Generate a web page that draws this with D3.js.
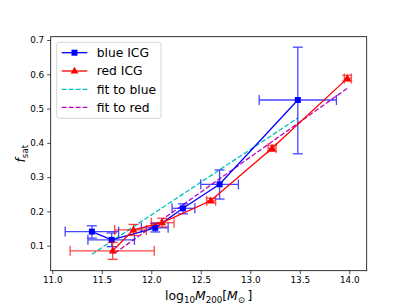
<!DOCTYPE html>
<html>
<head>
<meta charset="utf-8">
<script src="https://cdn.jsdelivr.net/npm/d3@7"></script>
<style>
  body { margin: 0; background: #fff; }
  text { font-family: "DejaVu Sans", sans-serif; }
</style>
</head>
<body>
<div id="chart"></div>
<script>
// blue ICG
const blueX = [11.40, 11.60, 12.04, 12.32, 12.69, 13.48];
const blueY = [0.141, 0.117, 0.152, 0.209, 0.279, 0.525];
const blueXlo = [11.13, 11.36, 11.90, 12.21, 12.50, 13.09];
const blueXhi = [11.67, 11.83, 12.17, 12.44, 12.88, 13.87];
const blueYlo = [0.122, 0.097, 0.140, 0.193, 0.236, 0.368];
const blueYhi = [0.158, 0.137, 0.165, 0.222, 0.321, 0.679];

// red ICG
const redX = [11.61, 11.82, 12.11, 12.60, 13.22, 13.98];
const redY = [0.085, 0.146, 0.167, 0.231, 0.384, 0.588];
const redXlo = [11.18, 11.63, 12.00, 12.56, 13.18, 13.95];
const redXhi = [12.03, 11.95, 12.23, 12.65, 13.26, 14.02];
const redYlo = [0.060, 0.130, 0.155, 0.225, 0.375, 0.580];
const redYhi = [0.110, 0.162, 0.180, 0.238, 0.393, 0.597];

// linear fits (end points)
const fitBlueX = [11.40, 13.48];
const fitBlueY = [0.075, 0.472];
const fitRedX = [11.63, 13.98];
const fitRedY = [0.078, 0.559];

const xTicks = [11.0, 11.5, 12.0, 12.5, 13.0, 13.5, 14.0];
const yTicks = [0.1, 0.2, 0.3, 0.4, 0.5, 0.6, 0.7];
const legendLabels = ["blue ICG", "red ICG", "fit to blue", "fit to red"];

const W = 407, H = 305;
const area = { left: 50.7, right: 366.7, top: 36.7, bottom: 270.7 };

const svg = d3.select("#chart").append("svg")
  .attr("width", W).attr("height", H);

const x = d3.scaleLinear().domain([10.984, 14.176]).range([area.left, area.right]);
const y = d3.scaleLinear().domain([0.027, 0.7096]).range([area.bottom, area.top]);

// axes
const xAxis = d3.axisBottom(x).tickValues(xTicks).tickSize(3.5).tickPadding(3)
  .tickFormat(d3.format(".1f"));
const yAxis = d3.axisLeft(y).tickValues(yTicks).tickSize(3.5).tickPadding(3)
  .tickFormat(d3.format(".1f"));

const xg = svg.append("g").attr("transform", `translate(0,${area.bottom})`).call(xAxis);
const yg = svg.append("g").attr("transform", `translate(${area.left},0)`).call(yAxis);
[xg, yg].forEach(g => {
  g.select(".domain").remove();
  g.selectAll(".tick line").attr("stroke", "#000").attr("stroke-width", 0.7);
  g.selectAll(".tick text").attr("fill", "#000").style("font-size", "8.8px")
    .style("font-family", "DejaVu Sans");
});

const plot = svg.append("g");
plot.append("defs").append("clipPath").attr("id", "clip")
  .append("rect").attr("x", area.left).attr("y", area.top)
  .attr("width", area.right - area.left).attr("height", area.bottom - area.top);

const line = d3.line().x(d => x(d[0])).y(d => y(d[1]));
const zip = (a, b) => a.map((v, i) => [v, b[i]]);

// fit lines
plot.append("path").datum(zip(fitBlueX, fitBlueY)).attr("d", line)
  .attr("fill", "none").attr("stroke", "#00bfbf").attr("stroke-width", 1.3)
  .attr("stroke-dasharray", "4.9,2.1");
plot.append("path").datum(zip(fitRedX, fitRedY)).attr("d", line)
  .attr("fill", "none").attr("stroke", "#bf00bf").attr("stroke-width", 1.3)
  .attr("stroke-dasharray", "4.9,2.1");

function errorSeries(color, xs, ys, xlo, xhi, ylo, yhi, marker) {
  const g = plot.append("g");
  const cap = 5;
  const eb = g.append("g").attr("stroke", color).attr("stroke-width", 1.3)
    .attr("opacity", 0.72).attr("fill", "none");
  xs.forEach((xv, i) => {
    const cx = x(xv), cy = y(ys[i]);
    const x0 = x(xlo[i]), x1 = x(xhi[i]), y0 = y(ylo[i]), y1 = y(yhi[i]);
    eb.append("line").attr("x1", x0).attr("x2", x1).attr("y1", cy).attr("y2", cy);
    eb.append("line").attr("x1", cx).attr("x2", cx).attr("y1", y0).attr("y2", y1);
    eb.append("line").attr("x1", x0).attr("x2", x0).attr("y1", cy - cap).attr("y2", cy + cap);
    eb.append("line").attr("x1", x1).attr("x2", x1).attr("y1", cy - cap).attr("y2", cy + cap);
    eb.append("line").attr("x1", cx - cap).attr("x2", cx + cap).attr("y1", y0).attr("y2", y0);
    eb.append("line").attr("x1", cx - cap).attr("x2", cx + cap).attr("y1", y1).attr("y2", y1);
  });
  g.append("path").datum(zip(xs, ys)).attr("d", line)
    .attr("fill", "none").attr("stroke", color).attr("stroke-width", 1.3);
  g.selectAll(".mk").data(zip(xs, ys)).join("path")
    .attr("class", "mk")
    .attr("transform", d => `translate(${x(d[0])},${y(d[1])})`)
    .attr("d", marker)
    .attr("fill", color);
}

const squareMarker = d3.symbol().type(d3.symbolSquare).size(36)();
const triMarker = "M0,-4.2L3.9,2.6L-3.9,2.6Z";

errorSeries("#0000ff", blueX, blueY, blueXlo, blueXhi, blueYlo, blueYhi, squareMarker);
errorSeries("#ff0000", redX, redY, redXlo, redXhi, redYlo, redYhi, triMarker);

// frame
svg.append("rect").attr("x", area.left).attr("y", area.top)
  .attr("width", area.right - area.left).attr("height", area.bottom - area.top)
  .attr("fill", "none").attr("stroke", "#000").attr("stroke-width", 0.8);

// legend
const lg = svg.append("g");
lg.append("rect").attr("x", 56.7).attr("y", 42.3).attr("width", 104.3).attr("height", 76)
  .attr("rx", 2.5).attr("fill", "#fff").attr("fill-opacity", 0.8)
  .attr("stroke", "#cccccc").attr("stroke-width", 0.8);
const legendColors = ["#0000ff", "#ff0000", "#00bfbf", "#bf00bf"];
const legendRows = [52.7, 71, 89.3, 107.3];
legendLabels.forEach((lab, i) => {
  const ly = legendRows[i];
  const ln = lg.append("line").attr("x1", 61.7).attr("x2", 87.3).attr("y1", ly).attr("y2", ly)
    .attr("stroke", legendColors[i]).attr("stroke-width", 1.3);
  if (i >= 2) ln.attr("stroke-dasharray", "4.9,2.1");
  if (i === 0) lg.append("path").attr("d", squareMarker).attr("fill", legendColors[i])
    .attr("transform", `translate(74.5,${ly})`);
  if (i === 1) lg.append("path").attr("d", triMarker).attr("fill", legendColors[i])
    .attr("transform", `translate(74.5,${ly})`);
  lg.append("text").attr("x", 96.7).attr("y", ly).attr("dy", "0.36em")
    .style("font-size", "12.3px").attr("fill", "#000").text(lab);
});

// axis labels
const xl = svg.append("text").attr("x", (area.left + area.right) / 2).attr("y", 300)
  .attr("text-anchor", "middle").style("font-size", "12.4px").attr("fill", "#000");
xl.append("tspan").text("log");
xl.append("tspan").attr("dy", 3).style("font-size", "8.7px").text("10");
xl.append("tspan").attr("dy", -3).style("font-style", "italic").text("M");
xl.append("tspan").attr("dy", 3).style("font-size", "8.7px").text("200");
xl.append("tspan").attr("dy", -3).text("[");
xl.append("tspan").style("font-style", "italic").text("M");
xl.append("tspan").attr("dy", 3).style("font-size", "8.7px").text("\u2299");
xl.append("tspan").attr("dy", -3).text("\u2009]");

const yl = svg.append("text")
  .attr("transform", `translate(25,${(area.top + area.bottom) / 2}) rotate(-90)`)
  .attr("text-anchor", "middle").style("font-size", "12.4px").attr("fill", "#000");
yl.append("tspan").style("font-style", "italic").text("f");
yl.append("tspan").attr("dy", 3).style("font-size", "8.7px").text("sat");
</script>
</body>
</html>
